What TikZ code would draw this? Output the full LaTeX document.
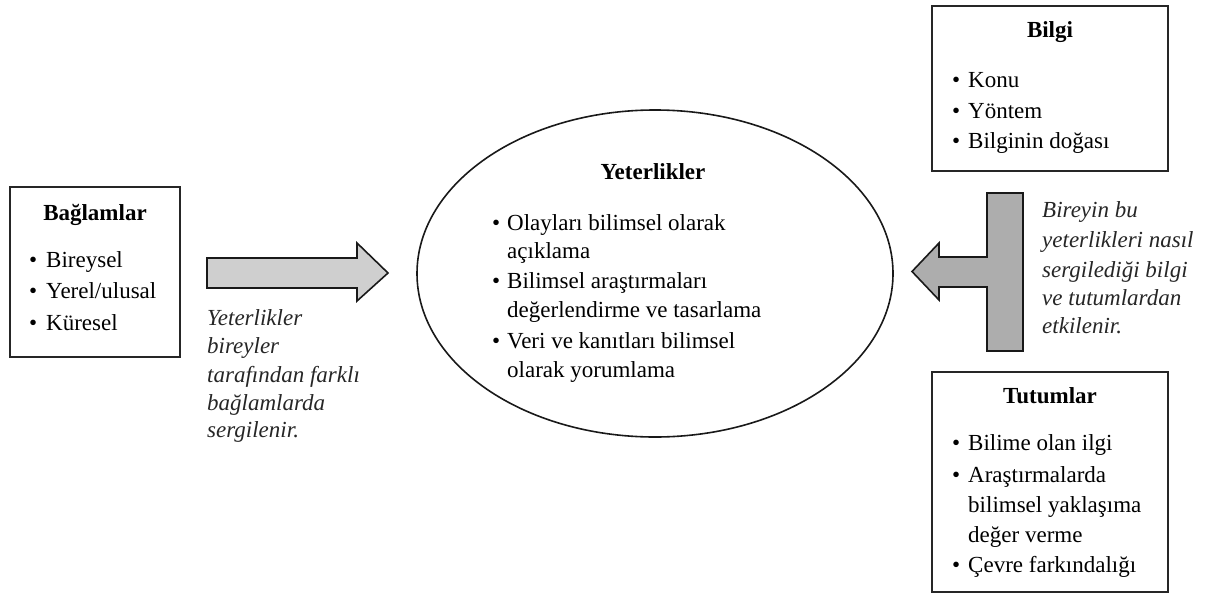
\documentclass[tikz,border=0pt]{standalone}
\usepackage{fontspec}
\setmainfont{Liberation Serif}
\usetikzlibrary{positioning}
\tikzset{
  box/.style={draw=black!85, line width=2pt},
  txt/.style={anchor=base west, inner sep=0pt, font=\fontsize{23}{28}\selectfont},
  ttl/.style={anchor=base, inner sep=0pt, font=\fontsize{23}{28}\selectfont\bfseries},
  itx/.style={anchor=base west, inner sep=0pt, font=\fontsize{23}{28}\selectfont\itshape, text=black!85},
  bul/.style={anchor=base west, inner sep=0pt, font=\fontsize{23}{28}\selectfont},
  arrL/.style={draw=black!90, line width=1.6pt, fill=black!19, line join=miter},
  arrR/.style={draw=black!90, line width=1.6pt, fill=black!32, line join=miter},
}
\begin{document}
\begin{tikzpicture}[x=1pt,y=-1pt]
\useasboundingbox (0,0) rectangle (1209,597);
% Bağlamlar box
\draw[box] (10,187) rectangle (180,357);
\node[ttl] (bt) at (95,220) {Bağlamlar};
\node[bul] (bb1) at (29,267) {\textbullet};
\node[txt] (b1) at (46,267) {Bireysel};
\node[bul] (bb2) at (29,298) {\textbullet};
\node[txt] (b2) at (46,298) {Yerel/ulusal};
\node[bul] (bb3) at (29,330) {\textbullet};
\node[txt] (b3) at (46,330) {Küresel};

% left arrow
\draw[arrL] (207,258) -- (357,258) -- (357,243) -- (388,273) -- (357,301) -- (357,288) -- (207,288) -- cycle;
\node[itx] (l1) at (207,325) {Yeterlikler};
\node[itx] (l2) at (207,353) {bireyler};
\node[itx] (l3) at (207,382) {tarafından farklı};
\node[itx] (l4) at (207,410) {bağlamlarda};
\node[itx] (l5) at (207,437) {sergilenir.};

% Ellipse
\draw[line width=1.6pt, draw=black!90] (655,273.5) ellipse [x radius=238, y radius=163.5];
\node[ttl] (yt) at (653,179) {Yeterlikler};
\node[bul] (yb1) at (492,230) {\textbullet};
\node[txt] (y1) at (507,230) {Olayları bilimsel olarak};
\node[txt] (y1b) at (507,258) {açıklama};
\node[bul] (yb2) at (492,288) {\textbullet};
\node[txt] (y2) at (507,288) {Bilimsel araştırmaları};
\node[txt] (y2b) at (507,317) {değerlendirme ve tasarlama};
\node[bul] (yb3) at (492,348) {\textbullet};
\node[txt] (y3) at (507,348) {Veri ve kanıtları bilimsel};
\node[txt] (y3b) at (507,377) {olarak yorumlama};

% Bilgi box
\draw[box] (932,6) rectangle (1168,171);
\node[ttl] (gt) at (1050,37) {Bilgi};
\node[bul] (gb1) at (952,87) {\textbullet};
\node[txt] (g1) at (968,87) {Konu};
\node[bul] (gb2) at (952,118) {\textbullet};
\node[txt] (g2) at (968,118) {Yöntem};
\node[bul] (gb3) at (952,148) {\textbullet};
\node[txt] (g3) at (968,148) {Bilginin doğası};

% right T arrow
\draw[arrR] (912,271.5) -- (939,243) -- (939,257) -- (987,257) -- (987,193) -- (1023,193) -- (1023,351) -- (987,351) -- (987,287) -- (939,287) -- (939,300) -- cycle;
\node[itx] (r1) at (1042,217) {Bireyin bu};
\node[itx] (r2) at (1042,247) {yeterlikleri nasıl};
\node[itx] (r3) at (1042,277) {sergilediği bilgi};
\node[itx] (r4) at (1042,305) {ve tutumlardan};
\node[itx] (r5) at (1042,333) {etkilenir.};

% Tutumlar box
\draw[box] (932,372) rectangle (1168,592);
\node[ttl] (tt) at (1050,403) {Tutumlar};
\node[bul] (tb1) at (952,450) {\textbullet};
\node[txt] (t1) at (968,450) {Bilime olan ilgi};
\node[bul] (tb2) at (952,482) {\textbullet};
\node[txt] (t2) at (968,482) {Araştırmalarda};
\node[txt] (t2b) at (968,512) {bilimsel yaklaşıma};
\node[txt] (t2c) at (968,542) {değer verme};
\node[bul] (tb3) at (952,572) {\textbullet};
\node[txt] (t3) at (968,572) {Çevre farkındalığı};
\end{tikzpicture}
\end{document}
